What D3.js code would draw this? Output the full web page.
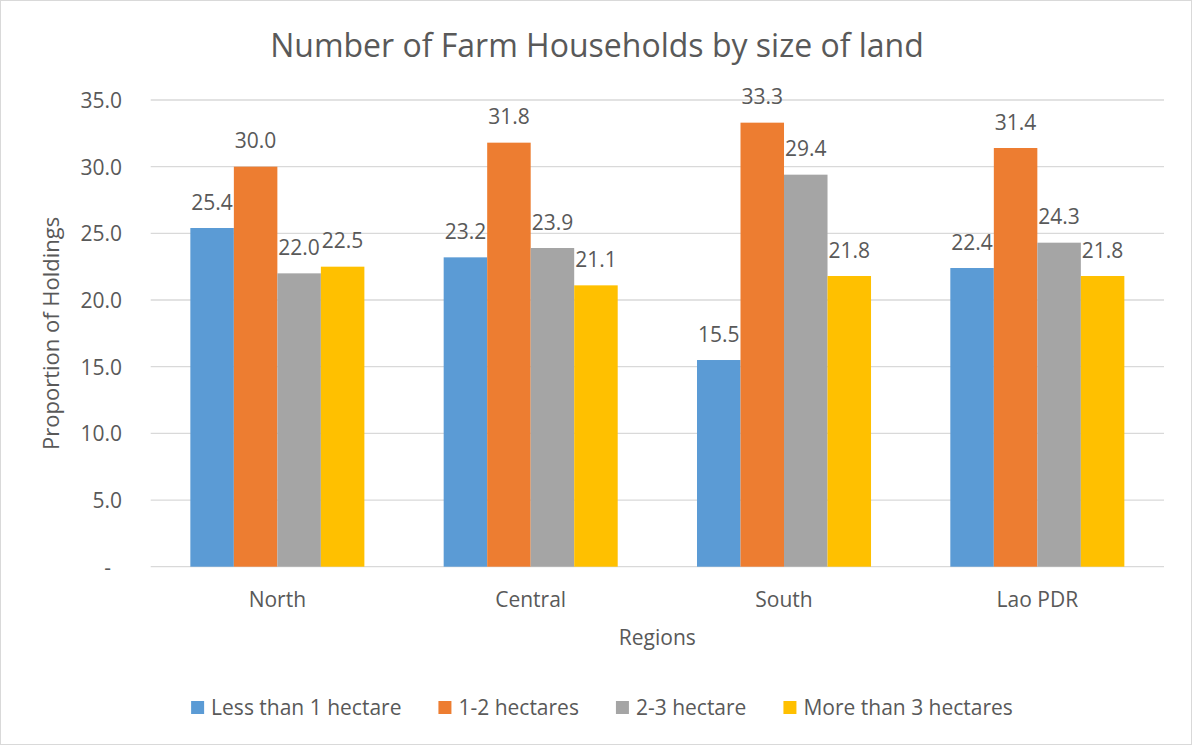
<!DOCTYPE html>
<html>
<head>
<meta charset="utf-8">
<script src="https://cdn.jsdelivr.net/npm/d3@7"></script>
<style>
  html, body { margin: 0; padding: 0; background: #fff; }
  svg { display: block; }
  text { font-family: "Open Sans", "Noto Sans", sans-serif; fill: #595959; }
</style>
</head>
<body>
<svg id="chart" width="1193" height="746"></svg>
<script>
// Regions along the category axis
const regions = ["North", "Central", "South", "Lao PDR"];
// Land-size classes (one bar per class in each region)
const landClasses = ["Less than 1 hectare", "1-2 hectares", "2-3 hectare", "More than 3 hectares"];
// Proportion of holdings by class, in region order
const lessThan1 = [25.4, 23.2, 15.5, 22.4];
const oneToTwo = [30.0, 31.8, 33.3, 31.4];
const twoToThree = [22.0, 23.9, 29.4, 24.3];
const moreThan3 = [22.5, 21.1, 21.8, 21.8];
// Value-axis ticks
const yTicks = [0, 5, 10, 15, 20, 25, 30, 35];

const seriesValues = [lessThan1, oneToTwo, twoToThree, moreThan3];
const colors = ["#5B9BD5", "#ED7D31", "#A5A5A5", "#FFC000"];

const FS = 21; // base label size

const svg = d3.select("#chart");
const W = 1193, H = 746;

// Chart frame
svg.append("rect")
  .attr("x", 0.5).attr("y", 0.5)
  .attr("width", W - 2).attr("height", H - 2)
  .attr("fill", "#fff").attr("stroke", "#D9D9D9").attr("stroke-width", 1);

const plot = { left: 150.7, right: 1164, top: 100, bottom: 566.7 };

const y = d3.scaleLinear().domain([0, 35]).range([plot.bottom, plot.top]);
const x0 = d3.scaleBand().domain(regions).range([plot.left, plot.right]).padding(0);
const groupGap = x0.bandwidth() * 0.313;
const x1 = d3.scaleBand().domain(landClasses)
  .range([groupGap / 2, x0.bandwidth() - groupGap / 2]).padding(0);

// Horizontal gridlines
svg.append("g").selectAll("line").data(yTicks).join("line")
  .attr("x1", plot.left).attr("x2", plot.right)
  .attr("y1", d => y(d)).attr("y2", d => y(d))
  .attr("stroke", "#D9D9D9").attr("stroke-width", 1.3);

// Value axis labels (zero shown as a dash, accounting style)
const yAxis = d3.axisLeft(y).tickValues(yTicks).tickSize(0).tickPadding(0)
  .tickFormat(d => d === 0 ? "-" : d3.format(".1f")(d));
const yAxisG = svg.append("g").attr("transform", `translate(122,0)`).call(yAxis);
yAxisG.select(".domain").remove();
yAxisG.selectAll("text")
  .attr("font-size", FS).attr("fill", "#595959")
  .style("font-family", '"Open Sans", sans-serif')
  .attr("dy", "0.35em")
  .attr("dx", d => d === 0 ? -11 : 0);

// Bars
const groups = svg.append("g").selectAll("g").data(regions).join("g")
  .attr("transform", d => `translate(${x0(d)},0)`);

groups.selectAll("rect")
  .data((r, i) => landClasses.map((c, k) => ({ cls: c, v: seriesValues[k][i], k })))
  .join("rect")
  .attr("x", d => x1(d.cls))
  .attr("width", x1.bandwidth())
  .attr("y", d => y(d.v))
  .attr("height", d => y(0) - y(d.v))
  .attr("fill", d => colors[d.k]);

// Value labels above bars
groups.selectAll("text.val")
  .data((r, i) => landClasses.map((c, k) => ({ cls: c, v: seriesValues[k][i], k })))
  .join("text")
  .attr("class", "val")
  .attr("x", d => x1(d.cls) + x1.bandwidth() / 2)
  .attr("y", d => y(d.v) - 18.5)
  .attr("text-anchor", "middle")
  .attr("font-size", FS)
  .text(d => d3.format(".1f")(d.v));

// Category axis labels
const xAxis = d3.axisBottom(x0).tickSize(0).tickPadding(0);
const xAxisG = svg.append("g").attr("transform", `translate(0,${plot.bottom})`).call(xAxis);
xAxisG.select(".domain").remove();
xAxisG.selectAll("text")
  .attr("font-size", FS).attr("fill", "#595959")
  .style("font-family", '"Open Sans", sans-serif')
  .attr("dy", 0).attr("y", 40.5);

// Chart title
svg.append("text")
  .attr("x", 597).attr("y", 57)
  .attr("text-anchor", "middle")
  .attr("font-size", 32)
  .text("Number of Farm Households by size of land");

// Axis titles
svg.append("text")
  .attr("x", (plot.left + plot.right) / 2).attr("y", 645)
  .attr("text-anchor", "middle")
  .attr("font-size", FS)
  .text("Regions");

svg.append("text")
  .attr("transform", `translate(59,${(plot.top + plot.bottom) / 2}) rotate(-90)`)
  .attr("text-anchor", "middle")
  .attr("font-size", 22)
  .text("Proportion of Holdings");

// Legend
const legend = svg.append("g");
const items = legend.selectAll("g").data(landClasses).join("g");
items.append("rect")
  .attr("width", 13).attr("height", 13)
  .attr("y", 701)
  .attr("fill", (d, i) => colors[i]);
items.append("text")
  .attr("font-size", FS)
  .attr("y", 714.5)
  .attr("x", 20)
  .text(d => d);

let cursor = 0;
const offsets = [];
items.each(function () {
  const tw = d3.select(this).select("text").node().getComputedTextLength();
  offsets.push(cursor);
  cursor += 20 + tw + 37;
});
const totalW = cursor - 37;
const startX = 602 - totalW / 2;
items.attr("transform", (d, i) => `translate(${startX + offsets[i]},0)`);
</script>
</body>
</html>
